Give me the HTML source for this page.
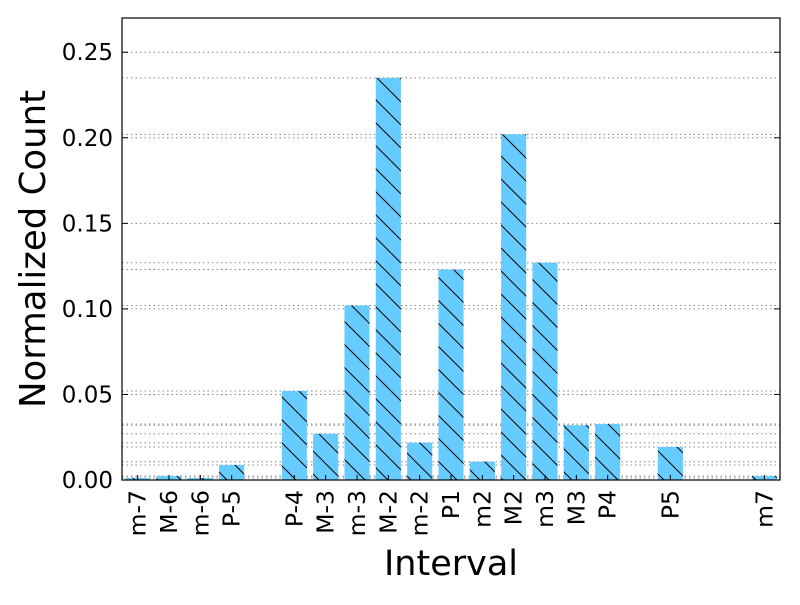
<!DOCTYPE html>
<html><head><meta charset="utf-8"><style>
html,body{margin:0;padding:0;background:#fff;}
svg text{font-family:"DejaVu Sans","Liberation Sans",sans-serif;fill:#000;}
</style></head><body>
<svg id="chart" width="800" height="600" viewBox="0 0 800 600" xmlns="http://www.w3.org/2000/svg">
<defs>
<pattern id="hatch" patternUnits="userSpaceOnUse" width="23" height="23">
<line x1="0" y1="0" x2="23" y2="23" stroke="#000" stroke-width="1"/>
<line x1="-23" y1="0" x2="0" y2="23" stroke="#000" stroke-width="1"/>
<line x1="23" y1="0" x2="46" y2="23" stroke="#000" stroke-width="1"/>
</pattern>
</defs>
<rect x="0" y="0" width="800" height="600" fill="#fff"/>
<g id="grid"></g>
<g id="bars"></g>
<rect x="122" y="18" width="658" height="462" fill="none" stroke="#000" stroke-width="1.2"/>
<g id="ticks"></g>
<text x="45" y="249" font-size="35.5" text-anchor="middle" transform="rotate(-90 45 249)">Normalized Count</text>
<text x="451" y="575" font-size="35" text-anchor="middle">Interval</text>
</svg>
<script>
const categories = ["m-7","M-6","m-6","P-5","P-4","M-3","m-3","M-2","m-2","P1","m2","M2","m3","M3","P4","P5","m7"];
const semitones = [-10,-9,-8,-7,-5,-4,-3,-2,-1,0,1,2,3,4,5,7,10];
const values = [0.0012,0.0023,0.0012,0.0088,0.052,0.027,0.102,0.235,0.0218,0.123,0.0107,0.202,0.127,0.032,0.0327,0.0193,0.0023];
const yTicks = [0,0.05,0.10,0.15,0.20,0.25];
const yTickLabels = ["0.00","0.05","0.10","0.15","0.20","0.25"];

const X0=122,X1=780,Y0=480,Y1=18,YMAX=0.27,SMIN=-10.5,SMAX=10.5;
const xs = s => X0 + (s-SMIN)/(SMAX-SMIN)*(X1-X0);
const ys = v => Y0 - v/YMAX*(Y0-Y1);
const slot=(X1-X0)/(SMAX-SMIN), bw=slot*0.8;
const NS="http://www.w3.org/2000/svg";
const grid=document.getElementById('grid'), bars=document.getElementById('bars'), ticks=document.getElementById('ticks');
function mk(tag,attrs,parent){const e=document.createElementNS(NS,tag);for(const k in attrs)e.setAttribute(k,attrs[k]);parent.appendChild(e);return e;}
function hline(v){
  const l=mk('line',{x1:X0,x2:X1,y1:ys(v),y2:ys(v),stroke:'#888','stroke-width':1,'stroke-dasharray':'1.5,3'},grid);
  
  
}
yTicks.slice(1).forEach(hline);
values.forEach(hline);
values.forEach((v,i)=>{
  const cx=xs(semitones[i]);
  const r=mk('rect',{x:cx-bw/2,y:ys(v),width:bw,height:Y0-ys(v),fill:'#66ccff'},bars);
  
  
  const h=mk('rect',{x:cx-bw/2,y:ys(v),width:bw,height:Y0-ys(v),fill:'url(#hatch)'},bars);
  
  
  const t=mk('line',{x1:cx,x2:cx,y1:Y0,y2:Y0-5,stroke:'#000','stroke-width':1},ticks);
  
  
  const lb=mk('text',{x:cx+8,y:Y0+10,'font-size':23.5,'text-anchor':'end',transform:'rotate(-90 '+(cx+8)+' '+(Y0+10)+')'},ticks);
  lb.textContent=categories[i];
  
  
});
yTicks.forEach((v,i)=>{
  const y=ys(v);
  const a=mk('line',{x1:X0,x2:X0+6,y1:y,y2:y,stroke:'#000'},ticks);
  
  
  const b=mk('line',{x1:X1-6,x2:X1,y1:y,y2:y,stroke:'#000'},ticks);
  
  
  const t=mk('text',{x:X0-9,y:y+8,'font-size':23,'text-anchor':'end'},ticks);
  t.textContent=yTickLabels[i];
  
  
});
</script>
</body></html>
